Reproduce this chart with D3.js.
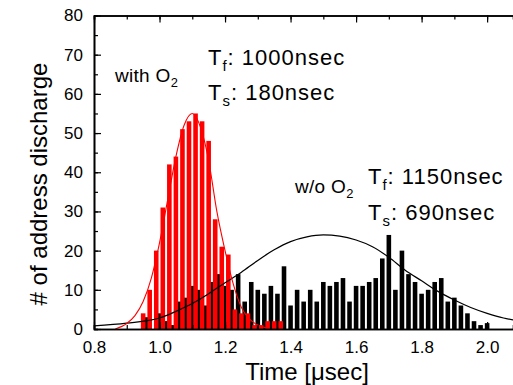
<!DOCTYPE html>
<html>
<head>
<meta charset="utf-8">
<script src="https://cdn.jsdelivr.net/npm/d3@7"></script>
<style>
  body { margin: 0; background: #fff; }
  svg { display: block; font-family: Arial, "Liberation Sans", sans-serif; }
</style>
</head>
<body>
<div id="chart"></div>
<script>
// histogram with O2 (red)
const redTimes = [0.95, 0.97, 0.99, 1.01, 1.03, 1.05, 1.07, 1.09, 1.11, 1.13, 1.15,
  1.17, 1.19, 1.21, 1.23, 1.25, 1.27, 1.29, 1.31, 1.33, 1.35, 1.37];
const redCounts = [4, 10, 20, 31, 42, 44, 51, 53, 55, 53, 48,
  28, 21, 19, 5, 4, 4, 1, 1, 2, 2, 2];

// histogram w/o O2 (black)
const blackTimes = [0.96, 0.98, 1.00, 1.02, 1.04, 1.06, 1.08, 1.10, 1.12, 1.14,
  1.16, 1.18, 1.20, 1.22, 1.24, 1.26, 1.28, 1.30, 1.32, 1.34,
  1.36, 1.38, 1.40, 1.42, 1.44, 1.46, 1.48, 1.50, 1.52, 1.54,
  1.56, 1.58, 1.60, 1.62, 1.64, 1.66, 1.68, 1.70, 1.72, 1.74,
  1.76, 1.78, 1.80, 1.82, 1.84, 1.86, 1.88, 1.90, 1.92, 1.94,
  1.96, 1.98, 2.00];
const blackCounts = [3, 0, 4, 2, 1, 7, 8, 11, 10, 6,
  12, 14, 11, 10, 14, 7, 12, 10, 9, 11,
  9, 16, 6, 10, 7, 10, 7, 12, 11, 12,
  13, 7, 11, 11, 12, 13, 18, 24, 10, 20,
  14, 12, 9, 10, 12, 13, 7, 8, 6, 4,
  2, 1, 1.5];

// fitted curves
const redFitX = [0.865, 0.90, 0.925, 0.95, 0.975, 1.00, 1.025, 1.05, 1.075, 1.10,
  1.125, 1.15, 1.175, 1.20, 1.225, 1.25, 1.275, 1.30, 1.33];
const redFitY = [0, 1.4, 3.4, 7.0, 13, 22, 33, 44, 52, 55,
  51.5, 43, 30, 20, 11.5, 5.5, 2.5, 1.0, 0.2];
const blackFitX = [0.80, 0.90, 1.00, 1.05, 1.10, 1.15, 1.20, 1.25, 1.30, 1.35,
  1.40, 1.45, 1.50, 1.55, 1.60, 1.65, 1.70, 1.75, 1.80, 1.85,
  1.90, 1.95, 2.00, 2.05, 2.08];
const blackFitY = [0.8, 1.5, 2.8, 4.5, 6.5, 9.0, 11.8, 14.5, 17.5, 20.2,
  22.3, 23.5, 24.0, 23.7, 22.7, 21.0, 18.3, 15.0, 12.3, 9.6,
  7.4, 5.5, 4.0, 2.8, 2.3];

const xTicks = [0.8, 1.0, 1.2, 1.4, 1.6, 1.8, 2.0];
const yTicks = [0, 10, 20, 30, 40, 50, 60, 70, 80];
const binWidth = 0.02;

const width = 513, height = 385;
const margin = { top: 15.5, right: 0, bottom: 56, left: 94 };

const svg = d3.select("#chart").append("svg")
  .attr("width", width)
  .attr("height", height);

const x = d3.scaleLinear()
  .domain([0.8, 2.079])
  .range([margin.left, width - margin.right]);

const y = d3.scaleLinear()
  .domain([0, 80])
  .range([height - margin.bottom, margin.top]);

const barW = x(0.8 + binWidth * 0.7) - x(0.8);

svg.append("clipPath").attr("id", "plot-clip")
  .append("rect")
  .attr("x", margin.left).attr("y", margin.top)
  .attr("width", width - margin.left - margin.right)
  .attr("height", y(0) - margin.top);

const plot = svg.append("g").attr("clip-path", "url(#plot-clip)");

// black bars first, red ones drawn over them
plot.append("g")
  .selectAll("rect")
  .data(blackTimes.map((t, i) => ({ t, v: blackCounts[i] })))
  .join("rect")
  .attr("x", (d) => x(d.t) - barW / 2)
  .attr("width", barW)
  .attr("y", (d) => y(d.v))
  .attr("height", (d) => y(0) - y(d.v))
  .attr("fill", "#000");

plot.append("g")
  .selectAll("rect")
  .data(redTimes.map((t, i) => ({ t, v: redCounts[i] })))
  .join("rect")
  .attr("x", (d) => x(d.t) - barW / 2)
  .attr("width", barW)
  .attr("y", (d) => y(d.v))
  .attr("height", (d) => y(0) - y(d.v))
  .attr("fill", "#ff0000");

const line = d3.line()
  .x((d) => x(d[0]))
  .y((d) => y(d[1]))
  .curve(d3.curveMonotoneX);

plot.append("path")
  .datum(blackFitX.map((t, i) => [t, blackFitY[i]]))
  .attr("d", line)
  .attr("fill", "none")
  .attr("stroke", "#000")
  .attr("stroke-width", 1.2);

plot.append("path")
  .datum(redFitX.map((t, i) => [t, redFitY[i]]))
  .attr("d", line)
  .attr("fill", "none")
  .attr("stroke", "#ff0000")
  .attr("stroke-width", 1.1);

// axes: Origin-style, ticks pointing inward, mirrored on top
const minorX = d3.range(0.8, 2.08, 0.1).map((v) => +v.toFixed(2));
const minorY = d3.range(0, 81, 5);

function styleAxis(g) {
  g.select(".domain").attr("stroke-width", 1.6);
  g.selectAll(".tick line").attr("stroke-width", 1.2);
}

svg.append("g")
  .attr("transform", `translate(0,${y(0)})`)
  .call(d3.axisBottom(x).tickValues(minorX).tickSize(-4).tickFormat(""))
  .call(styleAxis);

svg.append("g")
  .attr("transform", `translate(0,${y(0)})`)
  .call(d3.axisBottom(x).tickValues(xTicks).tickSize(-7).tickSizeOuter(0)
    .tickPadding(12).tickFormat(d3.format(".1f")))
  .call(styleAxis)
  .call((g) => g.selectAll("text").attr("font-size", 17).attr("fill", "#000")
    .attr("font-family", "Arial, 'Liberation Sans', sans-serif"));

svg.append("g")
  .attr("transform", `translate(0,${margin.top})`)
  .call(d3.axisTop(x).tickValues(minorX).tickSize(-4).tickFormat(""))
  .call(styleAxis);

svg.append("g")
  .attr("transform", `translate(0,${margin.top})`)
  .call(d3.axisTop(x).tickValues(xTicks).tickSize(-7).tickSizeOuter(0).tickFormat(""))
  .call(styleAxis);

svg.append("g")
  .attr("transform", `translate(${margin.left},0)`)
  .call(d3.axisLeft(y).tickValues(minorY).tickSize(-4).tickFormat(""))
  .call(styleAxis);

svg.append("g")
  .attr("transform", `translate(${margin.left},0)`)
  .call(d3.axisLeft(y).tickValues(yTicks).tickSize(-7).tickSizeOuter(0).tickPadding(11))
  .call(styleAxis)
  .call((g) => g.selectAll("text").attr("font-size", 17).attr("fill", "#000")
    .attr("font-family", "Arial, 'Liberation Sans', sans-serif"));

// axis titles
svg.append("text")
  .attr("x", 307)
  .attr("y", 380)
  .attr("text-anchor", "middle")
  .attr("font-size", 24)
  .text("Time [\u03bcsec]");

svg.append("text")
  .attr("transform", "translate(47,184) rotate(-90)")
  .attr("text-anchor", "middle")
  .attr("font-size", 24)
  .text("# of address discharge");

// annotations: main text with optional subscript pieces
function label(px, py, parts, size, spacing = 0) {
  const t = svg.append("text").attr("x", px).attr("y", py)
    .attr("font-size", size).attr("letter-spacing", spacing);
  let shifted = false;
  for (const [txt, sub] of parts) {
    const s = t.append("tspan").text(txt);
    if (sub) {
      s.attr("font-size", size * 0.68).attr("dy", size * 0.28);
      shifted = true;
    } else if (shifted) {
      s.attr("dy", -size * 0.28);
      shifted = false;
    }
  }
}

label(115, 82, [["with O", false], ["2", true]], 19, 0.3);
label(208, 65, [["T", false], ["f", true], [": 1000nsec", false]], 22, 1);
label(208, 100, [["T", false], ["s", true], [": 180nsec", false]], 22, 1);
label(295, 193, [["w/o O", false], ["2", true]], 19, 0.3);
label(368, 184, [["T", false], ["f", true], [": 1150nsec", false]], 22, 1);
label(368, 220, [["T", false], ["s", true], [": 690nsec", false]], 22, 1);
</script>
</body>
</html>
